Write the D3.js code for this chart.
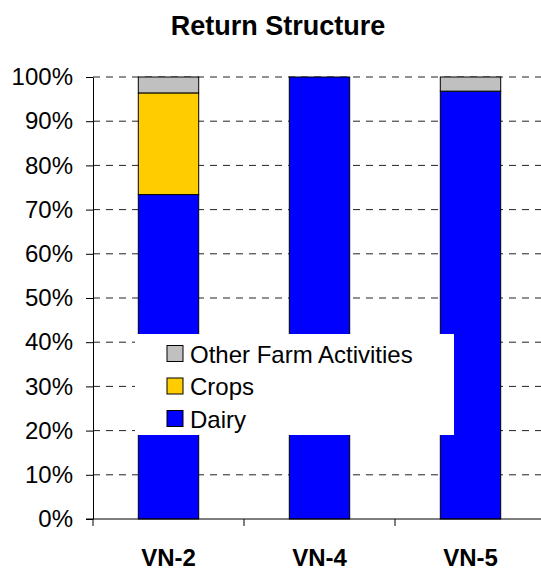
<!DOCTYPE html>
<html>
<head>
<meta charset="utf-8">
<script src="https://cdn.jsdelivr.net/npm/d3@7"></script>
<style>
  body { margin: 0; background: #fff; }
  svg { font-family: "Liberation Sans", Arial, sans-serif; }
</style>
</head>
<body>
<div id="chart"></div>
<script>
const categories = ["VN-2", "VN-4", "VN-5"];
const dairy = [73.4, 100, 96.8];
const crops = [23.0, 0, 0];
const other = [3.6, 0, 3.2];
const yTicks = [0, 10, 20, 30, 40, 50, 60, 70, 80, 90, 100];

const seriesNames = ["Dairy", "Crops", "Other Farm Activities"];
const seriesColors = ["#0000ff", "#ffcc00", "#c0c0c0"];

const width = 541, height = 570;
const margin = {top: 77, right: -5, bottom: 51, left: 93};
const innerW = width - margin.left - margin.right;
const innerH = height - margin.top - margin.bottom;

const svg = d3.select("#chart").append("svg")
    .attr("width", width)
    .attr("height", height);

svg.append("text")
    .attr("x", 278).attr("y", 35)
    .attr("text-anchor", "middle")
    .attr("font-size", 27).attr("font-weight", "bold")
    .text("Return Structure");

const g = svg.append("g").attr("transform", `translate(${margin.left},${margin.top})`);

const x = d3.scaleBand().domain(categories).range([0, innerW]).paddingInner(0.6).paddingOuter(0.3);
const xTick = d3.scaleLinear().domain([0, 3]).range([0, innerW]);
const y = d3.scaleLinear().domain([0, 100]).range([innerH, 0]);

// gridlines
g.append("g").selectAll("line")
    .data(yTicks.filter(d => d > 0))
    .enter().append("line")
    .attr("x1", 0).attr("x2", innerW)
    .attr("y1", d => y(d)).attr("y2", d => y(d))
    .attr("stroke", "#222")
    .attr("stroke-dasharray", "7,6");

// stacked bars
const rows = categories.map((c, i) => ({cat: c, Dairy: dairy[i], Crops: crops[i], "Other Farm Activities": other[i]}));
const stacked = d3.stack().keys(seriesNames)(rows);

g.append("g").selectAll("g")
    .data(stacked)
    .enter().append("g")
    .attr("fill", (d, i) => seriesColors[i])
    .selectAll("rect")
    .data(d => d.filter(p => p[1] - p[0] > 0))
    .enter().append("rect")
    .attr("x", d => x(d.data.cat))
    .attr("width", x.bandwidth())
    .attr("y", d => y(d[1]))
    .attr("height", d => y(d[0]) - y(d[1]))
    .attr("stroke", "#000")
    .attr("stroke-width", 1);

// y axis
const yAxis = g.append("g")
    .call(d3.axisLeft(y).tickValues(yTicks).tickFormat(d => d + "%").tickSize(7).tickSizeOuter(0));
yAxis.select(".domain").attr("stroke", "#000");
yAxis.selectAll(".tick text")
    .attr("font-size", 24)
    .attr("font-family", "Liberation Sans, Arial, sans-serif")
    .attr("fill", "#000")
    .attr("x", -20);

// x axis
const xAxis = g.append("g").attr("transform", `translate(0,${innerH})`);
xAxis.append("line").attr("x1", -7).attr("x2", innerW).attr("stroke", "#000");
xAxis.selectAll(".xt")
    .data(d3.range(0, 4))
    .enter().append("line")
    .attr("x1", d => xTick(d)).attr("x2", d => xTick(d))
    .attr("y1", 0).attr("y2", 7)
    .attr("stroke", "#000");
xAxis.selectAll(".xl")
    .data(categories)
    .enter().append("text")
    .attr("x", d => x(d) + x.bandwidth() / 2)
    .attr("y", 47)
    .attr("text-anchor", "middle")
    .attr("font-size", 24).attr("font-weight", "bold")
    .text(d => d);

// legend
const legend = svg.append("g").attr("transform", "translate(135,334)");
legend.append("rect").attr("width", 319).attr("height", 101).attr("fill", "#fff");
const legendItems = seriesNames.slice().reverse();
const legendColors = seriesColors.slice().reverse();
const li = legend.selectAll(".li")
    .data(legendItems)
    .enter().append("g")
    .attr("transform", (d, i) => `translate(32,${19.5 + i * 32.5})`);
li.append("rect")
    .attr("x", 0).attr("y", -8).attr("width", 16).attr("height", 16)
    .attr("fill", (d, i) => legendColors[i])
    .attr("stroke", "#000");
li.append("text")
    .attr("x", 23).attr("y", 9)
    .attr("font-size", 24)
    .text(d => d);
</script>
</body>
</html>
